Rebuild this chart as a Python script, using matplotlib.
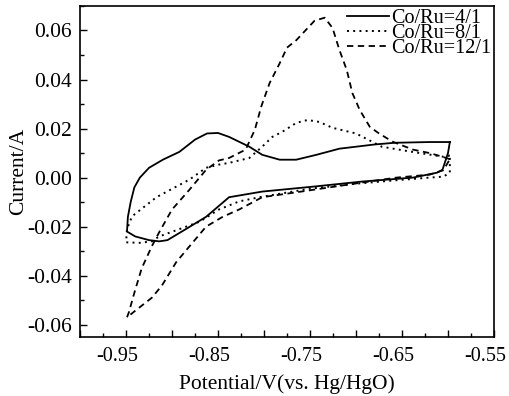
import matplotlib
matplotlib.use("Agg")
import matplotlib.pyplot as plt
from matplotlib.ticker import MultipleLocator, FuncFormatter
from matplotlib.transforms import ScaledTranslation
import numpy as np

plt.rcParams["font.family"] = ["Liberation Serif", "DejaVu Serif"]
plt.rcParams["axes.unicode_minus"] = False

## Co/Ru=4/1 (solid), closed loop
x_41 = [-0.598, -0.62, -0.658, -0.68, -0.70, -0.718, -0.743, -0.765, -0.783, -0.802,
        -0.816, -0.838, -0.850, -0.862, -0.875, -0.892, -0.910, -0.925, -0.935, -0.941,
        -0.945, -0.948, -0.949, -0.94, -0.925, -0.914, -0.905, -0.885, -0.863, -0.838,
        -0.802, -0.747, -0.693, -0.638, -0.612, -0.606, -0.600, -0.598]
y_41 = [0.0145, 0.0145, 0.0142, 0.0135, 0.0126, 0.0118, 0.0093, 0.0073, 0.0073, 0.0093,
        0.0126, 0.0166, 0.0182, 0.0180, 0.0155, 0.0105, 0.0073, 0.004, 0.000, -0.004,
        -0.010, -0.016, -0.022, -0.024, -0.0255, -0.026, -0.0255, -0.021, -0.016, -0.008,
        -0.0057, -0.0037, -0.0016, 0.0, 0.002, 0.0032, 0.010, 0.0145]

## Co/Ru=8/1 (dotted)
x_81 = [-0.598, -0.605, -0.639, -0.672, -0.70, -0.7255, -0.740, -0.7527, -0.765, -0.780,
        -0.791, -0.802, -0.816, -0.838, -0.849, -0.863, -0.881, -0.917, -0.9435, -0.949,
        -0.950, -0.935, -0.922, -0.914, -0.892, -0.870, -0.849, -0.827, -0.805, -0.75,
        -0.70, -0.66, -0.62, -0.605, -0.598, -0.598]
y_81 = [0.009, 0.0085, 0.0105, 0.0126, 0.018, 0.0203, 0.0227, 0.0235, 0.0223, 0.0187,
        0.0166, 0.0126, 0.008, 0.006, 0.0053, 0.004, -0.0008, -0.008, -0.0158, -0.021,
        -0.0264, -0.0266, -0.026, -0.024, -0.021, -0.018, -0.013, -0.0097, -0.008, -0.0045,
        -0.0025, -0.0012, 0.000, 0.0004, 0.002, 0.009]

## Co/Ru=12/1 (dashed)
x_121 = [-0.598, -0.606, -0.620, -0.638, -0.660, -0.675, -0.685, -0.696, -0.704, -0.710,
         -0.718, -0.7255, -0.734, -0.745, -0.765, -0.775, -0.783, -0.794, -0.803, -0.810,
         -0.820, -0.838, -0.849, -0.863, -0.881, -0.900, -0.914, -0.922, -0.933, -0.941,
         -0.947, -0.949, -0.939, -0.922, -0.911, -0.8955, -0.881, -0.863, -0.845, -0.827,
         -0.802, -0.765, -0.693, -0.656, -0.620, -0.605, -0.598]
y_121 = [0.0075, 0.0085, 0.010, 0.0114, 0.0146, 0.018, 0.0207, 0.0276, 0.0345, 0.0438,
         0.052, 0.061, 0.0652, 0.064, 0.056, 0.053, 0.0466, 0.0385, 0.029, 0.0195,
         0.0114, 0.008, 0.0070, 0.0032, -0.0049, -0.013, -0.0223, -0.028, -0.037, -0.047,
         -0.055, -0.057, -0.054, -0.049, -0.044, -0.0345, -0.028, -0.020, -0.016, -0.013,
         -0.008, -0.006, -0.002, 0.0, 0.0012, 0.003, 0.0075]

labels = ["Co/Ru=4/1", "Co/Ru=8/1", "Co/Ru=12/1"]

fig = plt.figure(figsize=(5.1, 3.96), dpi=100)
ax = fig.add_axes([0.157, 0.149, 0.8116, 0.836])

ax.plot(x_41, y_41, "k-", lw=1.3, label=labels[0])
ax.plot(x_81, y_81, "k", ls=(0, (1, 2.2)), lw=1.4, label=labels[1])
ax.plot(x_121, y_121, "k", ls=(0, (3.5, 2.5)), lw=1.3, label=labels[2])

ax.set_xlim(-1.0, -0.55)
ax.set_ylim(-0.065, 0.07)

ax.xaxis.set_major_locator(MultipleLocator(0.05))
ax.xaxis.set_minor_locator(MultipleLocator(0.025))
def xfmt(v, pos):
    k = (v + 0.95) / 0.1
    if abs(k - round(k)) < 1e-6:
        return "%.2f" % v
    return ""
ax.xaxis.set_major_formatter(FuncFormatter(xfmt))
ax.yaxis.set_major_locator(MultipleLocator(0.02))
ax.yaxis.set_minor_locator(MultipleLocator(0.01))
ax.yaxis.set_major_formatter(FuncFormatter(lambda v, p: "%.2f" % v))

ax.tick_params(which="both", direction="in", width=1)
ax.tick_params(which="major", length=5)
ax.tick_params(which="minor", length=3)
ax.tick_params(axis="x", labelsize=14.5, pad=7)
ax.tick_params(axis="y", labelsize=15.5, pad=6)
for s in ax.spines.values():
    s.set_linewidth(1.2)

# x tick labels sit a bit left of their ticks in the original
shift = ScaledTranslation(-9 / 100.0, 0, fig.dpi_scale_trans)
for lab in ax.get_xticklabels():
    lab.set_transform(lab.get_transform() + shift)

ax.set_xlabel("Potential/V(vs. Hg/HgO)", fontsize=15.5, labelpad=6)
ax.set_ylabel("Current/A", fontsize=15.5, labelpad=-1)

ax.legend(loc="upper right", frameon=False, fontsize=14.5, handlelength=2.1,
          handletextpad=0.1, labelspacing=-0.2, borderaxespad=0.05,
          borderpad=0.1)

fig.savefig("out.png", dpi=100)
